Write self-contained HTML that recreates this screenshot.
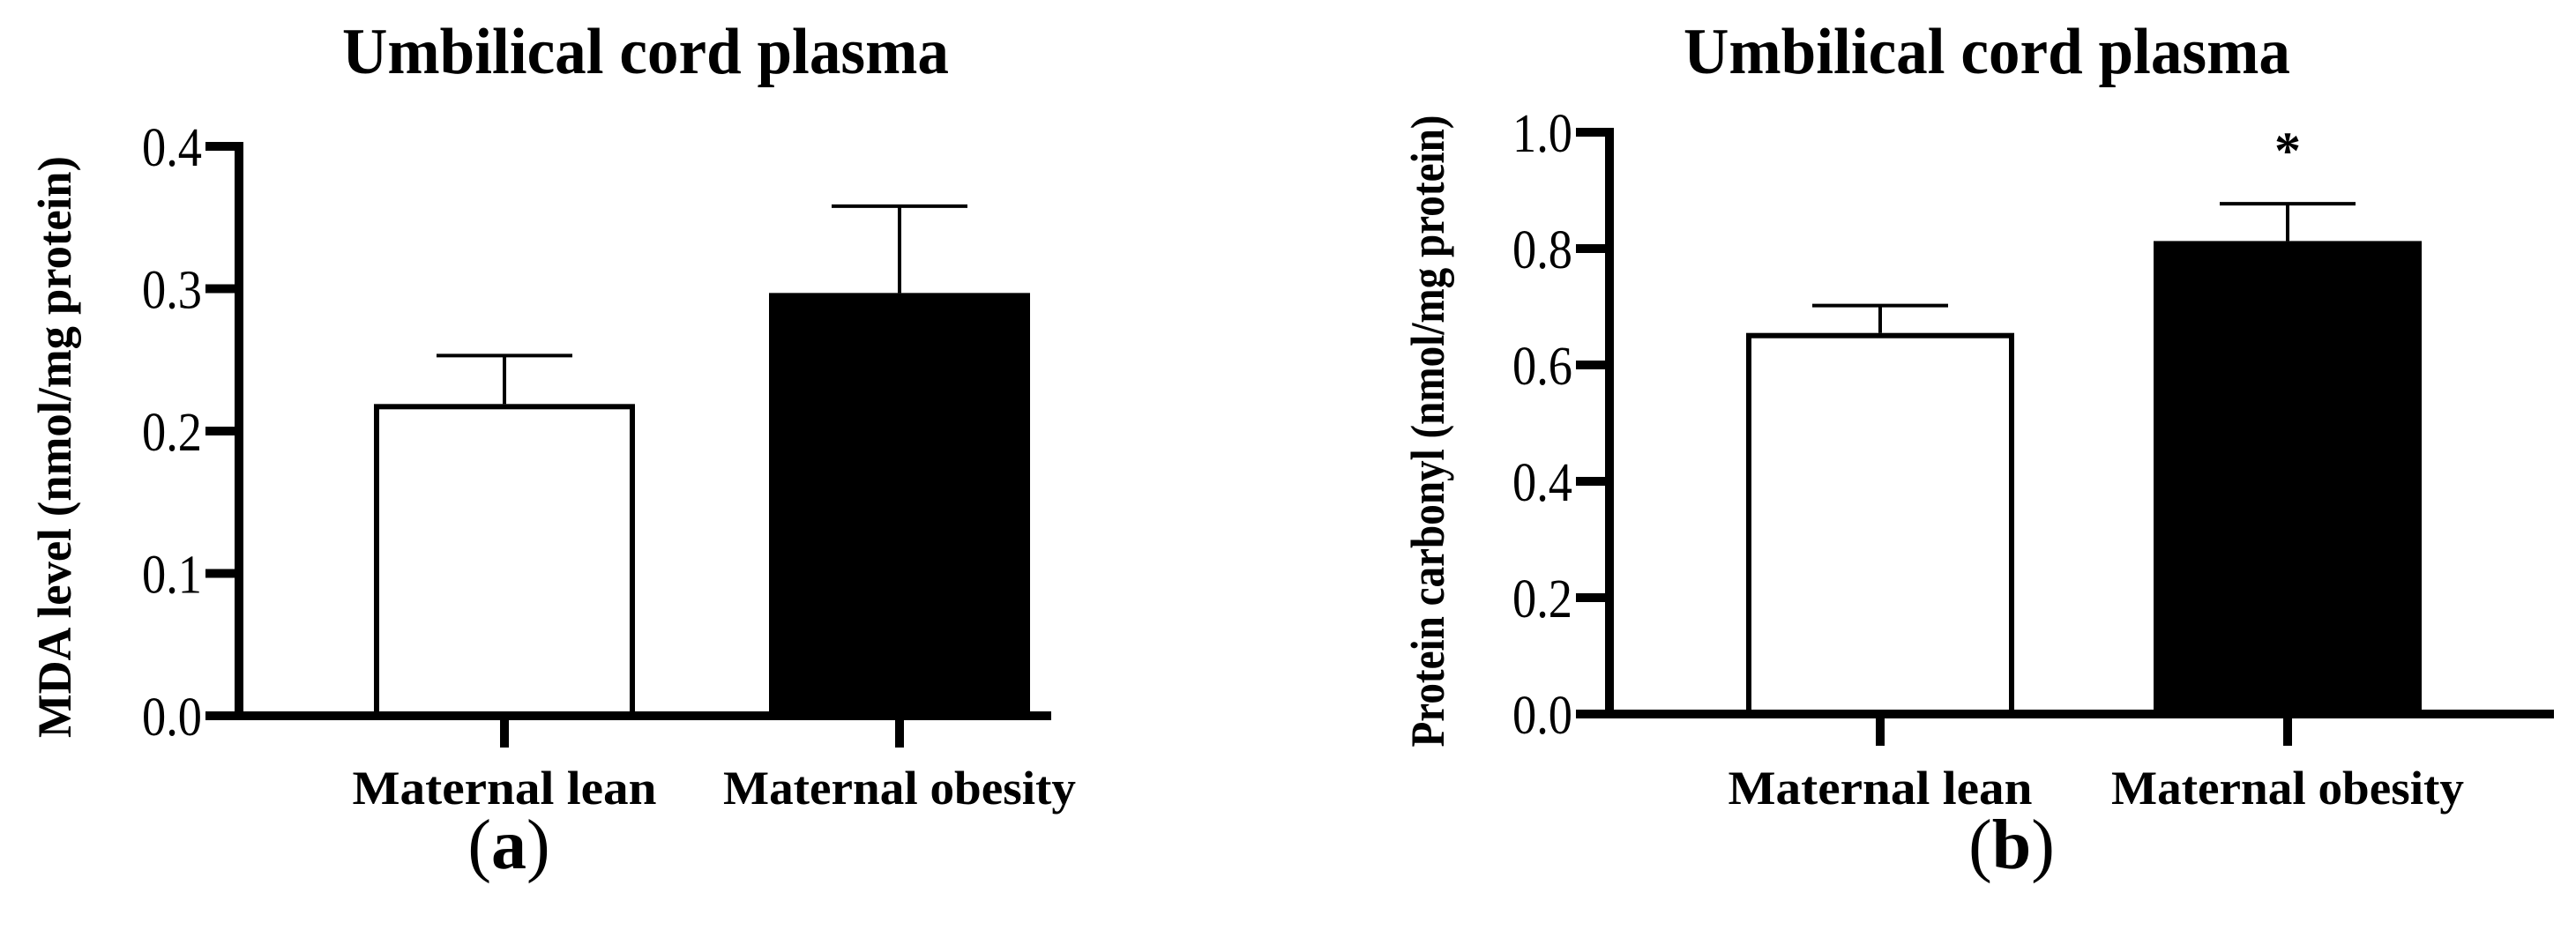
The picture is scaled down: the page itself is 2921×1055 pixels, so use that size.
<!DOCTYPE html>
<html><head><meta charset="utf-8"><style>
html,body{margin:0;padding:0;background:#fff;}
svg{display:block;font-family:"Liberation Serif",serif;}
</style></head><body>
<svg id="fig" width="2921" height="1055" viewBox="0 0 2921 1055" xmlns="http://www.w3.org/2000/svg"></svg>
<script>
const categories = ["Maternal lean", "Maternal obesity"];
const mdaValues = [0.219, 0.297];
const mdaErrors = [0.034, 0.061];
const mdaTicks = ["0.0", "0.1", "0.2", "0.3", "0.4"];
const carbValues = [0.655, 0.813];
const carbErrors = [0.047, 0.064];
const carbTicks = ["0.0", "0.2", "0.4", "0.6", "0.8", "1.0"];
const carbSignif = ["", "*"];

const NS = "http://www.w3.org/2000/svg";
const svg = document.getElementById("fig");
function mk(tag, attrs, parent) {
  const e = document.createElementNS(NS, tag);
  for (const k in attrs) e.setAttribute(k, attrs[k]);
  (parent || svg).appendChild(e);
  return e;
}

function panel(cfg) {
  const g = mk("g", {});
  
  
  const y = v => cfg.y0 - (v / cfg.max) * (cfg.y0 - cfg.yTop);
  const x = i => cfg.c0 + i * cfg.step;

  const t = mk("text", {x: cfg.titleX, y: 83, "font-size": 74, "font-weight": "bold", "text-anchor": "middle", textLength: 688, lengthAdjust: "spacingAndGlyphs"}, g);
  t.textContent = "Umbilical cord plasma";
  
  

  const yt = mk("text", {transform: `translate(${cfg.ytX},${cfg.ytY}) rotate(-90)`, "font-size": 54, "font-weight": "bold", "text-anchor": "middle", textLength: cfg.ytLen, lengthAdjust: "spacingAndGlyphs"}, g);
  yt.textContent = cfg.yTitle;
  
  

  cfg.values.forEach((v, i) => {
    const cx = x(i);
    const top = y(v), cap = y(v + cfg.errors[i]);
    const el = mk("line", {x1: cx, x2: cx, y1: top, y2: cap, stroke: "#000", "stroke-width": 4}, g);
    
    
    const c = mk("line", {x1: cx - 77, x2: cx + 77, y1: cap, y2: cap, stroke: "#000", "stroke-width": 4}, g);
    
    
    const r = mk("rect", {x: cx - cfg.half + 3, y: top + 3, width: 2 * cfg.half - 6, height: cfg.y0 - top - 3, fill: i === 0 ? "#fff" : "#000", stroke: "#000", "stroke-width": 6}, g);
    
    
    if (cfg.signif && cfg.signif[i]) {
      const s = mk("text", {x: cx, y: cap - 40, "font-size": 60, "font-weight": "bold", "text-anchor": "middle"}, g);
      s.textContent = cfg.signif[i];
      
      
    }
    const xt = mk("line", {x1: cx, x2: cx, y1: cfg.y0, y2: cfg.y0 + 36, stroke: "#000", "stroke-width": 10}, g);
    
    
    const lab = mk("text", {x: cx, y: 912, "font-size": 54, "font-weight": "bold", "text-anchor": "middle", textLength: i === 0 ? 345 : 400, lengthAdjust: "spacingAndGlyphs"}, g);
    lab.textContent = categories[i];
    
    
  });

  const ya = mk("line", {x1: cfg.ax, x2: cfg.ax, y1: cfg.yTop - 5, y2: cfg.y0 + 5, stroke: "#000", "stroke-width": 10}, g);
  
  
  const xa = mk("line", {x1: cfg.ax - 5, x2: cfg.axEnd, y1: cfg.y0, y2: cfg.y0, stroke: "#000", "stroke-width": 10}, g);
  
  
  cfg.ticks.forEach(tk => {
    const v = parseFloat(tk), ty = y(v);
    const l = mk("line", {x1: cfg.ax - 38, x2: cfg.ax, y1: ty, y2: ty, stroke: "#000", "stroke-width": 10}, g);
    
    
    const tl = mk("text", {x: cfg.ax - 42, y: ty + 22, "font-size": 62, "text-anchor": "end", textLength: 68, lengthAdjust: "spacingAndGlyphs"}, g);
    tl.textContent = tk;
    
    
  });

  const pl = mk("text", {x: cfg.plX, y: 985, "font-size": 80, "text-anchor": "middle"}, g);
  
  
  const a1 = mk("tspan", {}, pl); a1.textContent = "(";
  const a2 = mk("tspan", {"font-weight": "bold"}, pl); a2.textContent = cfg.letter;
  const a3 = mk("tspan", {}, pl); a3.textContent = ")";
}

panel({name: "panel-a-mda", values: mdaValues, errors: mdaErrors, ticks: mdaTicks, max: 0.4,
  y0: 812, yTop: 166, ax: 271, axEnd: 1192, c0: 572, step: 448, half: 148,
  titleX: 732, yTitle: "MDA level (nmol/mg protein)", ytX: 80, ytY: 507, ytLen: 660, plX: 577, letter: "a"});
panel({name: "panel-b-carbonyl", values: carbValues, errors: carbErrors, ticks: carbTicks, max: 1.0, signif: carbSignif,
  y0: 810, yTop: 150, ax: 1825, axEnd: 2896, c0: 2132, step: 462, half: 152,
  titleX: 2253, yTitle: "Protein carbonyl (nmol/mg protein)", ytX: 1637, ytY: 489, ytLen: 717, plX: 2281, letter: "b"});
</script>
</body></html>
